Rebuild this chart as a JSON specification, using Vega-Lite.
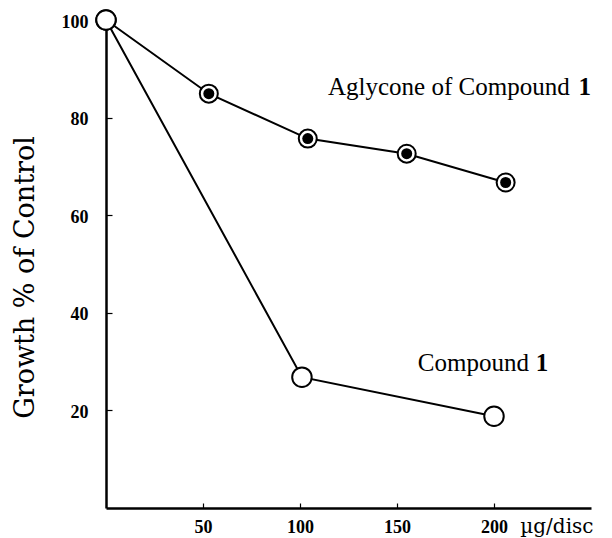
{
  "$schema": "https://vega.github.io/schema/vega-lite/v6.json",
  "width": 485,
  "height": 488,
  "autosize": {"type": "none"},
  "padding": {"left": 106, "top": 20, "right": 21, "bottom": 30},
  "background": "white",
  "config": {"view": {"stroke": null}},
  "data": {"values": [
    {"series": "Aglycone of Compound 1", "dose": 0, "growth": 100, "marker": "open"},
    {"series": "Aglycone of Compound 1", "dose": 53, "growth": 84.9, "marker": "filled"},
    {"series": "Aglycone of Compound 1", "dose": 104, "growth": 75.7, "marker": "filled"},
    {"series": "Aglycone of Compound 1", "dose": 155, "growth": 72.6, "marker": "filled"},
    {"series": "Aglycone of Compound 1", "dose": 206, "growth": 66.7, "marker": "filled"},
    {"series": "Compound 1", "dose": 0, "growth": 100, "marker": "open"},
    {"series": "Compound 1", "dose": 101, "growth": 26.8, "marker": "open"},
    {"series": "Compound 1", "dose": 200, "growth": 18.8, "marker": "open"}
  ]},
  "layer": [
    {
      "mark": {"type": "line", "color": "black", "strokeWidth": 2},
      "encoding": {
        "x": {
          "field": "dose", "type": "quantitative",
          "scale": {"domain": [0, 250], "nice": false, "zero": true},
          "axis": {
            "values": [50, 100, 150, 200],
            "grid": false,
            "domainColor": "black", "domainWidth": 2.5,
            "tickColor": "black", "tickSize": -5, "tickWidth": 1.2,
            "labelFont": "Liberation Serif", "labelFontSize": 18, "labelFontWeight": "bold",
            "labelColor": "black", "labelPadding": 15,
            "title": "µg/disc",
            "titleFont": "DejaVu Serif", "titleFontSize": 20, "titleFontWeight": "normal",
            "titleColor": "black",
            "titleX": 487, "titleY": 18, "titleAlign": "right", "titleBaseline": "middle"
          }
        },
        "y": {
          "field": "growth", "type": "quantitative",
          "scale": {"domain": [0, 100], "nice": false},
          "axis": {
            "values": [20, 40, 60, 80, 100],
            "grid": false,
            "domainColor": "black", "domainWidth": 2.5,
            "tickColor": "black", "tickSize": -6, "tickWidth": 1.2,
            "labelFont": "Liberation Serif", "labelFontSize": 18, "labelFontWeight": "bold",
            "labelColor": "black", "labelPadding": 24, "labelOffset": 2,
            "title": "Growth % of Control",
            "titleFont": "DejaVu Serif", "titleFontSize": 27, "titleFontWeight": "normal",
            "titleColor": "black",
            "titleX": -81, "titleY": 257, "titleAlign": "center", "titleBaseline": "middle", "titleAngle": -90
          }
        },
        "detail": {"field": "series", "type": "nominal"}
      }
    },
    {
      "transform": [{"filter": "datum.marker === 'open'"}],
      "mark": {"type": "point", "shape": "circle", "filled": true, "fill": "white", "stroke": "black", "strokeWidth": 2, "opacity": 1, "size": 380},
      "encoding": {
        "x": {"field": "dose", "type": "quantitative"},
        "y": {"field": "growth", "type": "quantitative"}
      }
    },
    {
      "transform": [{"filter": "datum.marker === 'filled'"}],
      "mark": {"type": "point", "shape": "circle", "filled": true, "fill": "white", "stroke": "black", "strokeWidth": 2, "opacity": 1, "size": 324},
      "encoding": {
        "x": {"field": "dose", "type": "quantitative"},
        "y": {"field": "growth", "type": "quantitative"}
      }
    },
    {
      "transform": [{"filter": "datum.marker === 'filled'"}],
      "mark": {"type": "point", "shape": "circle", "filled": true, "fill": "black", "strokeWidth": 0, "opacity": 1, "size": 121},
      "encoding": {
        "x": {"field": "dose", "type": "quantitative"},
        "y": {"field": "growth", "type": "quantitative"}
      }
    },
    {
      "data": {"values": [{}]},
      "mark": {"type": "text", "font": "Liberation Serif", "fontSize": 25, "fontWeight": "normal", "align": "right", "baseline": "middle", "fill": "black"},
      "encoding": {
        "x": {"datum": 239, "type": "quantitative"},
        "y": {"datum": 86.2, "type": "quantitative"},
        "text": {"value": "Aglycone of  Compound"}
      }
    },
    {
      "data": {"values": [{}]},
      "mark": {"type": "text", "font": "Liberation Serif", "fontSize": 25, "fontWeight": "bold", "align": "right", "baseline": "middle", "fill": "black"},
      "encoding": {
        "x": {"datum": 250, "type": "quantitative"},
        "y": {"datum": 86.2, "type": "quantitative"},
        "text": {"value": "1"}
      }
    },
    {
      "data": {"values": [{}]},
      "mark": {"type": "text", "font": "Liberation Serif", "fontSize": 25, "fontWeight": "normal", "align": "right", "baseline": "middle", "fill": "black"},
      "encoding": {
        "x": {"datum": 218, "type": "quantitative"},
        "y": {"datum": 29.8, "type": "quantitative"},
        "text": {"value": "Compound"}
      }
    },
    {
      "data": {"values": [{}]},
      "mark": {"type": "text", "font": "Liberation Serif", "fontSize": 25, "fontWeight": "bold", "align": "right", "baseline": "middle", "fill": "black"},
      "encoding": {
        "x": {"datum": 228, "type": "quantitative"},
        "y": {"datum": 29.8, "type": "quantitative"},
        "text": {"value": "1"}
      }
    }
  ]
}
